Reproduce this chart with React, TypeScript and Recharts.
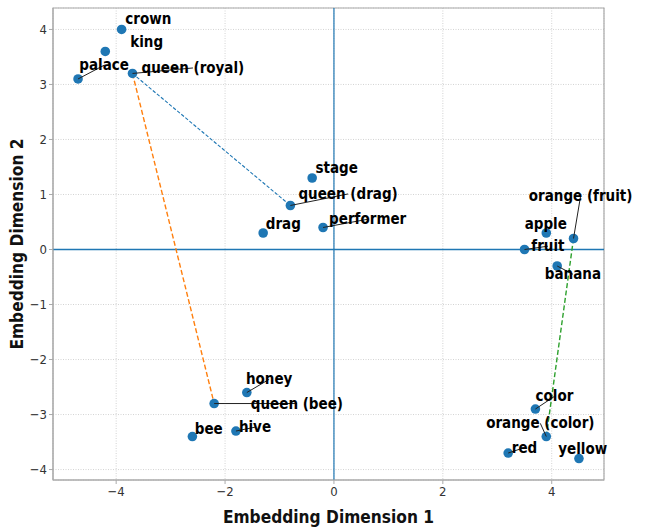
import React from 'react';
import { ScatterChart, Scatter, XAxis, YAxis, CartesianGrid, ReferenceLine, ReferenceArea, Label } from 'recharts';

const words = ['crown', 'king', 'palace', 'queen (royal)', 'stage', 'queen (drag)', 'drag', 'performer', 'orange (fruit)', 'apple', 'fruit', 'banana', 'honey', 'queen (bee)', 'bee', 'hive', 'color', 'orange (color)', 'red', 'yellow'];
const xs = [-3.9, -4.2, -4.7, -3.7, -0.4, -0.8, -1.3, -0.2, 4.4, 3.9, 3.5, 4.1, -1.6, -2.2, -2.6, -1.8, 3.7, 3.9, 3.2, 4.5];
const ys = [4.0, 3.6, 3.1, 3.2, 1.3, 0.8, 0.3, 0.4, 0.2, 0.3, 0.0, -0.3, -2.6, -2.8, -3.4, -3.3, -2.9, -3.4, -3.7, -3.8];
// adjusted label centres (data coordinates)
const labelXs = [-3.41, -3.44, -4.22, -2.59, 0.05, 0.26, -0.93, 0.62, 4.53, 3.89, 3.93, 4.39, -1.19, -0.68, -2.30, -1.45, 4.05, 3.79, 3.50, 4.57];
const labelYs = [4.19, 3.77, 3.35, 3.30, 1.48, 1.01, 0.46, 0.55, 0.97, 0.46, 0.06, -0.45, -2.36, -2.80, -3.27, -3.23, -2.67, -3.16, -3.60, -3.63];
const leaderWords = ['palace', 'queen (royal)', 'queen (drag)', 'performer', 'orange (fruit)', 'fruit', 'banana', 'honey', 'queen (bee)', 'hive', 'color', 'orange (color)', 'red'];
const linkFrom = ['queen (royal)', 'queen (royal)', 'orange (fruit)'];
const linkTo = ['queen (drag)', 'queen (bee)', 'orange (color)'];
const linkColors = ['#1f77b4', '#ff7f0e', '#2ca02c'];
const xTicks = [-4, -2, 0, 2, 4];
const yTicks = [-4, -3, -2, -1, 0, 1, 2, 3, 4];
const xDomain = [-5.16, 4.96];
const yDomain = [-4.19, 4.39];

const points = words.map((w, i) => ({ word: w, x: xs[i], y: ys[i] }));
const labels = words.map((w, i) => ({ word: w, x: labelXs[i], y: labelYs[i] }));
const idx = (w: string) => words.indexOf(w);

const FONT = '"DejaVu Sans Condensed", "DejaVu Sans", sans-serif';
const fmt = (v: number) => String(v).replace('-', '\u2212');

const Empty = () => <g />;

const LabelShape = (props: any) => (
  <text x={props.cx} y={props.cy} textAnchor="middle" dominantBaseline="central"
    fontFamily={FONT} fontWeight="bold" fontSize={15} fill="#000">{props.payload.word}</text>
);

const Dot = (props: any) => <circle cx={props.cx} cy={props.cy} r={4.8} fill="#1f77b4" />;

export default function App() {
  return (
    <div style={{ position: 'absolute', left: 0, top: 0, background: '#fff' }}>
      <ScatterChart width={645} height={531} margin={{ top: 8, right: 41, bottom: 0, left: 0 }}>
        <CartesianGrid stroke="#c8c8c8" strokeDasharray="1 1.5" strokeWidth={0.8} />
        <XAxis type="number" dataKey="x" domain={xDomain} ticks={xTicks} height={51}
          tickFormatter={fmt} tick={{ fontFamily: FONT, fontSize: 13, fill: '#333' }}
          stroke="#aaa" tickSize={4} tickLine={{ stroke: '#aaa' }} axisLine={{ stroke: '#aaa' }} tickMargin={3}>
          <Label content={(p: any) => {
            const vb = p.viewBox;
            return <text x={vb.x + vb.width / 2} y={vb.y + 37} textAnchor="middle" dominantBaseline="central"
              fontFamily={FONT} fontWeight="bold" fontSize={17.2} fill="#111">Embedding Dimension 1</text>;
          }} />
        </XAxis>
        <YAxis type="number" dataKey="y" domain={yDomain} ticks={yTicks} width={53}
          tickFormatter={fmt} tick={{ fontFamily: FONT, fontSize: 13, fill: '#333' }}
          stroke="#aaa" tickSize={4} tickLine={{ stroke: '#aaa' }} axisLine={{ stroke: '#aaa' }} tickMargin={2}>
          <Label content={(p: any) => {
            const vb = p.viewBox;
            const cx = 17;
            const cy = vb.y + vb.height / 2;
            return <text x={cx} y={cy} transform={`rotate(-90 ${cx} ${cy})`} textAnchor="middle" dominantBaseline="central"
              fontFamily={FONT} fontWeight="bold" fontSize={17.2} fill="#111">Embedding Dimension 2</text>;
          }} />
        </YAxis>
        <ReferenceArea x1={xDomain[0]} x2={xDomain[1]} y1={yDomain[0]} y2={yDomain[1]} fill="none" stroke="#aaa" strokeWidth={1.2} />
        <ReferenceLine y={0} stroke="#1f77b4" strokeWidth={1.5} />
        <ReferenceLine x={0} stroke="#1f77b4" strokeWidth={1.2} />
        {linkFrom.map((f, i) => (
          <Scatter key={'link' + i} data={[points[idx(f)], points[idx(linkTo[i])]]} isAnimationActive={false}
            line={{ stroke: linkColors[i], strokeWidth: i === 0 ? 1.1 : 1.4, strokeDasharray: i === 0 ? '3.5 1.8' : '5 2.5' }}
            shape={Empty} />
        ))}
        <Scatter data={points} isAnimationActive={false} shape={Dot} />
        {leaderWords.map((w) => (
          <Scatter key={'lead' + w} data={[points[idx(w)], labels[idx(w)]]} isAnimationActive={false}
            line={{ stroke: '#222', strokeWidth: 1 }} shape={Empty} />
        ))}
        <Scatter data={labels} isAnimationActive={false} shape={LabelShape} />
      </ScatterChart>
    </div>
  );
}
